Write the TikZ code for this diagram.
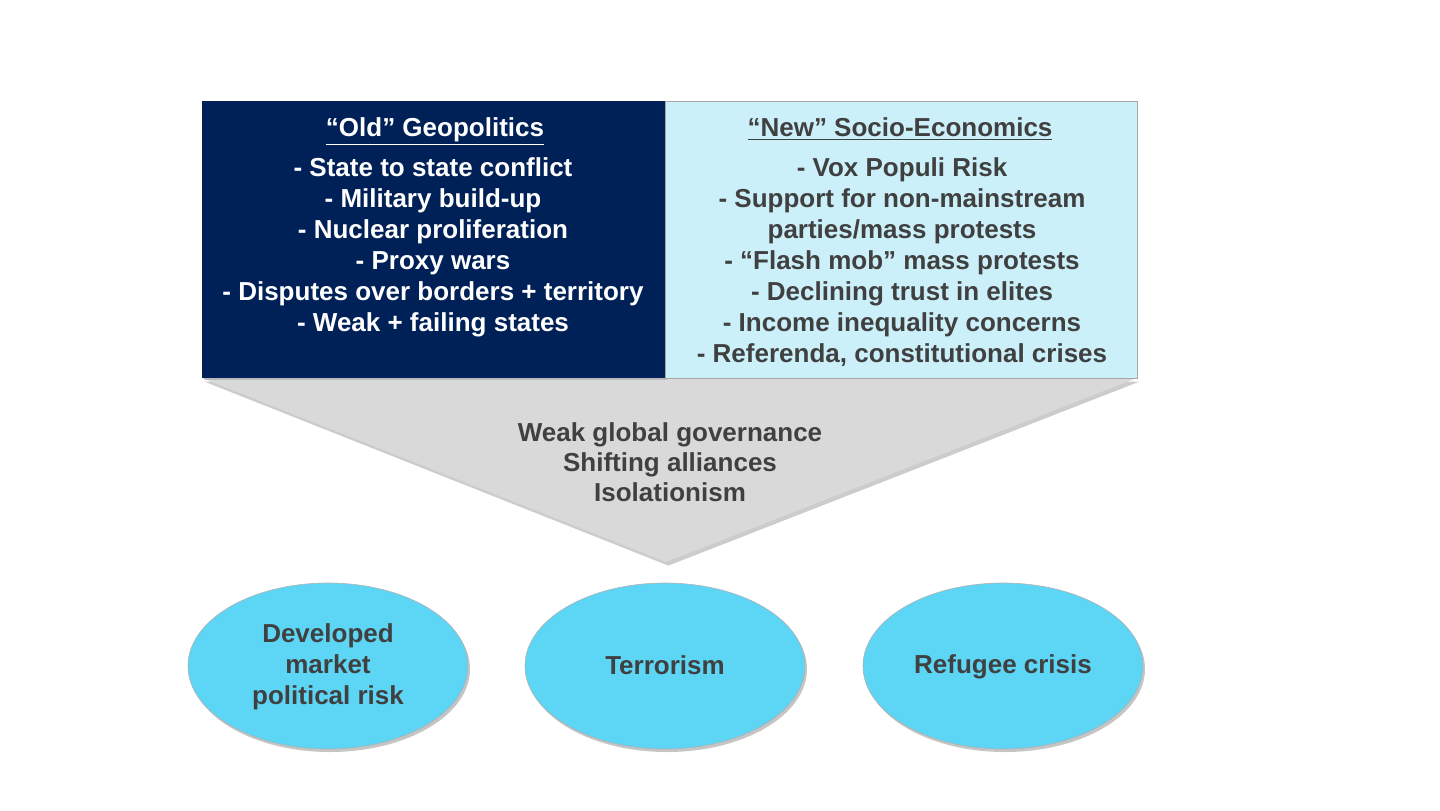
\documentclass[tikz,border=0pt]{standalone}
\usepackage{fontspec}
\setmainfont{Liberation Sans}
\usetikzlibrary{shadows,shapes.geometric}
\definecolor{navy}{RGB}{0,33,87}
\definecolor{lightbox}{RGB}{204,240,250}
\definecolor{trigray}{RGB}{217,217,217}
\definecolor{circblue}{RGB}{93,213,245}
\definecolor{darktext}{RGB}{64,64,64}
\tikzset{
  lbl/.style={align=center,font=\fontsize{13}{15.5}\selectfont\bfseries,inner sep=0pt},
  oval/.style={ellipse,fill=circblue,draw=gray!60,line width=0.3pt,minimum width=140pt,minimum height=83pt,
    drop shadow={shadow xshift=1pt,shadow yshift=-1.5pt,opacity=0.45,fill=gray}},
  boxshadow/.style={drop shadow={shadow xshift=1pt,shadow yshift=-1pt,opacity=0.35,fill=gray}}
}
\begin{document}
\begin{tikzpicture}[x=0.5pt,y=-0.5pt]
\useasboundingbox[fill=white] (0,0) rectangle (1440,810);
% funnel triangle
\fill[trigray,drop shadow={shadow xshift=1.2pt,shadow yshift=-1.8pt,opacity=0.4,fill=gray}]
  (202,378) -- (1137,378) -- (666,562) -- cycle;
% boxes
\fill[navy,boxshadow] (202,101) rectangle (665,378);
\filldraw[fill=lightbox,draw=gray!70,line width=0.4pt] (665,101) rectangle (1137,378);
\fill[navy] (202,101) rectangle (665,378);
% left box text
\node[lbl,text=white,anchor=base] (oldt) at (435,136) {\underline{“Old” Geopolitics}};
\node[lbl,text=white] (oldl) at (433,247) {- State to state conflict\\- Military build-up\\- Nuclear proliferation\\- Proxy wars\\- Disputes over borders + territory\\- Weak + failing states};
% right box text
\node[lbl,text=darktext,anchor=base] (newt) at (900,136) {\underline{“New” Socio-Economics}};
\node[lbl,text=darktext] (newl) at (902,262) {- Vox Populi Risk\\- Support for non-mainstream\\parties/mass protests\\- “Flash mob” mass protests\\- Declining trust in elites\\- Income inequality concerns\\- Referenda, constitutional crises};
% triangle text
\node[lbl,text=darktext,font=\fontsize{13}{15}\selectfont\bfseries] (tri) at (670,462) {Weak global governance\\Shifting alliances\\Isolationism};
% ovals
\node[oval] (o1) at (328,666) {};
\node[oval] (o2) at (665,666) {};
\node[oval] (o3) at (1003,666) {};
\node[lbl,text=darktext] (t1) at (328,667) {Developed\\market\\political risk};
\node[lbl,text=darktext] (t2) at (665,665) {Terrorism};
\node[lbl,text=darktext] (t3) at (1003,667) {Refugee crisis};
\end{tikzpicture}
\end{document}
